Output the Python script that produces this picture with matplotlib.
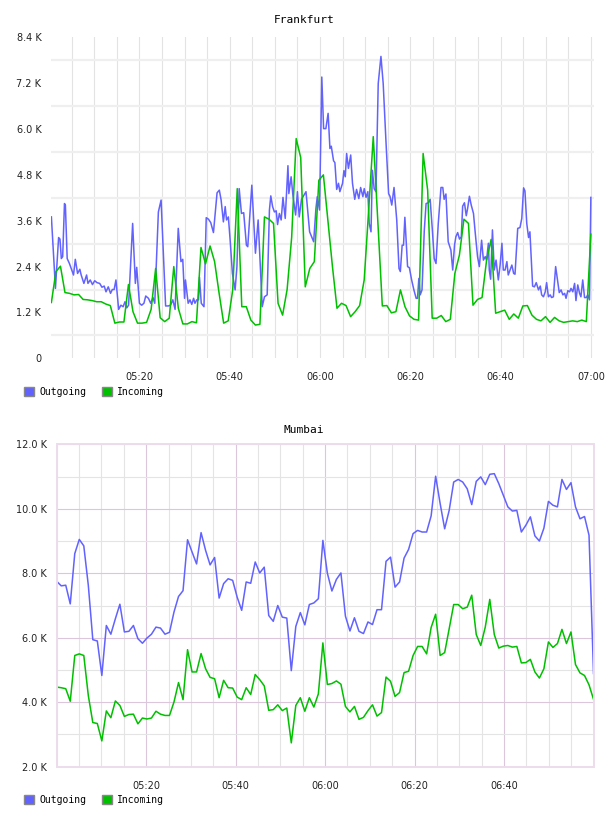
import matplotlib
matplotlib.use("Agg")
import matplotlib.pyplot as plt
import matplotlib.dates as mdates
from matplotlib.patches import Patch
from matplotlib.ticker import MultipleLocator, FixedLocator
import pandas as pd

START = pd.Timestamp("2000-01-01 05:00")

# Frankfurt outgoing: minutes after 05:00 and value (K)
fra_out_min = [0.5, 1.4, 2.1, 2.4, 2.7, 3.0, 3.4, 3.6, 4.0, 4.5, 4.9, 5.4, 5.8, 6.3, 6.8, 7.1, 7.7, 8.3, 8.6, 9.1,
               9.6, 10.1, 10.6, 11.2, 11.7, 12.2, 12.6, 13.1, 13.6, 14.0, 14.4, 14.8, 15.4, 15.9, 16.4, 16.8, 17.2,
               17.6, 18.5, 19.1, 19.4, 20.0, 20.5, 21.0, 21.4, 22.0, 22.5, 23.0, 23.4, 24.2, 24.8, 25.8, 26.4, 26.9,
               27.4, 27.9, 28.6, 29.2, 29.6, 30.0, 30.2, 30.8, 31.2, 31.6, 32.0, 32.3, 32.7, 33.1, 33.3, 33.7, 34.3,
               34.8, 35.3, 35.8, 36.4, 37.2, 37.7, 38.1, 38.6, 39.0, 39.3, 39.7, 40.1, 40.6, 41.2, 41.6, 42.1, 42.6,
               43.1, 43.7, 44.0, 44.9, 45.4, 45.7, 46.3, 47.2, 47.7, 48.3, 48.8, 49.1, 49.5, 49.9, 50.3, 50.6, 51.0,
               51.4, 51.8, 52.3, 52.9, 53.1, 53.6, 54.0, 54.6, 55.0, 55.4, 55.9, 56.9, 57.7, 58.6, 59.1, 59.4, 59.9,
               60.4, 60.8, 61.3, 61.8, 62.2, 62.5, 63.0, 63.3, 63.7, 64.1, 64.4, 65.0, 65.3, 65.6, 65.9, 66.3, 66.8,
               67.2, 67.7, 68.1, 68.6, 69.0, 69.5, 69.8, 70.2, 70.6, 70.9, 71.3, 71.6, 72.0, 72.4, 72.9, 73.5, 74.0,
               74.6, 75.2, 75.5, 75.9, 76.4, 77.0, 77.5, 77.8, 78.2, 78.5, 78.8, 79.4, 79.8, 80.3, 80.8, 81.3, 81.6,
               81.9, 82.2, 82.6, 83.1, 83.5, 84.0, 84.4, 84.9, 85.3, 85.7, 86.2, 86.8, 87.2, 87.5, 87.9, 88.4, 89.0,
               89.4, 89.8, 90.1, 90.5, 90.9, 91.3, 91.6, 92.0, 92.4, 92.7, 93.1, 93.5, 94.0, 94.4, 94.9, 95.3, 95.8,
               96.2, 96.6, 96.9, 97.3, 97.5, 97.8, 98.2, 98.6, 99.0, 99.5, 99.9, 100.3, 100.6, 101.0, 101.4, 101.7,
               102.1, 102.5, 102.9, 103.2, 103.8, 104.3, 104.7, 105.1, 105.4, 105.8, 106.2, 106.5, 107.1, 107.5,
               107.9, 108.4, 108.8, 109.1, 109.5, 109.9, 110.2, 110.6, 111.0, 111.3, 111.7, 112.2, 112.6, 113.0,
               113.4, 113.8, 114.2, 114.5, 114.9, 115.3, 115.6, 116.0, 116.4, 116.7, 117.1, 117.5, 117.8, 118.2,
               118.6, 119.0, 119.3, 119.7, 120.0]
fra_out = [3.70, 1.83, 3.16, 3.12, 2.61, 2.66, 4.05, 4.01, 2.61, 2.48, 2.35, 2.18, 2.59, 2.22, 2.33, 2.18, 1.96,
           2.18, 1.96, 2.05, 1.93, 2.03, 1.98, 1.96, 1.86, 1.89, 1.74, 1.87, 1.70, 1.80, 1.80, 2.05, 1.28, 1.39,
           1.35, 1.48, 1.32, 1.39, 3.53, 1.96, 2.38, 1.44, 1.39, 1.44, 1.63, 1.57, 1.44, 1.59, 1.44, 3.83, 4.14,
           1.37, 1.37, 1.39, 1.53, 1.28, 3.40, 2.53, 2.59, 1.57, 2.05, 1.44, 1.53, 1.41, 1.57, 1.44, 1.53, 1.53,
           2.12, 1.44, 1.35, 3.68, 3.64, 3.55, 3.29, 4.33, 4.40, 4.14, 3.57, 3.97, 3.62, 3.70, 3.09, 2.22, 1.79,
           2.40, 4.44, 3.79, 3.81, 2.96, 2.92, 4.53, 3.40, 2.75, 3.62, 1.35, 1.61, 1.66, 3.88, 4.25, 3.97, 3.83,
           3.86, 3.50, 3.79, 3.62, 4.21, 3.66, 5.04, 4.31, 4.75, 4.27, 3.75, 4.36, 3.70, 4.16, 4.36, 3.31, 3.05,
           3.92, 4.23, 3.88, 7.36, 6.01, 6.01, 6.41, 5.49, 5.55, 5.17, 5.12, 4.42, 4.58, 4.36, 4.58, 4.91, 4.75,
           5.36, 4.97, 5.32, 4.58, 4.16, 4.42, 4.18, 4.47, 4.23, 4.44, 4.21, 4.36, 3.53, 3.31, 4.92, 4.44, 4.36,
           7.19, 7.90, 7.19, 5.71, 4.31, 4.24, 4.01, 4.47, 3.62, 2.35, 2.27, 2.96, 2.96, 3.69, 2.40, 2.37, 2.05,
           1.79, 1.57, 1.57, 2.09, 1.66, 1.79, 3.34, 4.05, 4.07, 4.16, 3.34, 2.61, 2.48, 3.53, 4.47, 4.47, 4.16,
           4.30, 3.05, 2.83, 2.31, 2.96, 3.18, 3.29, 3.12, 3.18, 3.98, 4.07, 3.73, 3.92, 4.24, 4.01, 3.79, 3.27,
           2.66, 2.40, 3.09, 2.57, 2.66, 2.57, 3.01, 2.31, 2.07, 3.36, 2.31, 2.57, 2.05, 2.44, 3.01, 2.31, 2.31,
           2.53, 2.18, 2.31, 2.44, 2.22, 2.20, 3.40, 3.42, 3.66, 4.46, 4.38, 3.53, 3.16, 3.31, 1.89, 1.87, 1.98,
           1.79, 1.89, 1.66, 1.61, 1.74, 1.98, 1.61, 1.66, 1.59, 1.61, 2.40, 2.05, 1.72, 1.79, 1.66, 1.70, 1.57,
           1.77, 1.74, 1.83, 1.74, 1.96, 1.51, 1.92, 1.70, 1.61, 2.05, 1.59, 1.59, 1.66, 1.53, 4.21]

# Frankfurt incoming: one sample a minute, 05:00:30 .. 07:00
fra_in = [1.46, 2.27, 2.41, 1.72, 1.70, 1.66, 1.67, 1.54, 1.53, 1.51, 1.48, 1.48, 1.42, 1.38, 0.92, 0.95, 0.95,
          1.93, 1.22, 0.92, 0.92, 0.94, 1.28, 2.35, 1.06, 0.96, 1.05, 2.40, 1.31, 0.90, 0.90, 0.96, 0.93, 2.90,
          2.47, 2.94, 2.53, 1.70, 0.92, 0.98, 1.79, 4.44, 1.35, 1.35, 1.00, 0.87, 0.89, 3.70, 3.64, 3.53, 1.44,
          1.13, 1.80, 3.16, 5.75, 5.25, 1.87, 2.35, 2.53, 4.66, 4.80, 3.60, 2.40, 1.31, 1.44, 1.38, 1.09, 1.22,
          1.38, 2.05, 3.90, 5.80, 3.60, 1.37, 1.38, 1.19, 1.22, 1.79, 1.35, 1.11, 1.02, 1.00, 5.36, 4.40, 1.05,
          1.05, 1.12, 0.96, 1.02, 2.22, 2.70, 3.64, 3.53, 1.39, 1.54, 1.59, 2.57, 3.11, 1.18, 1.22, 1.26, 1.02,
          1.16, 1.05, 1.37, 1.38, 1.13, 1.02, 0.98, 1.09, 0.94, 1.07, 0.98, 0.94, 0.96, 0.98, 0.96, 1.00, 0.96,
          3.25]

# Mumbai: one sample a minute, 05:00 .. 07:00
mum_out = [7.75, 7.61, 7.63, 7.05, 8.61, 9.05, 8.85, 7.63, 5.94, 5.90, 4.83, 6.38, 6.11, 6.59, 7.04, 6.18, 6.20,
           6.38, 5.97, 5.83, 5.99, 6.11, 6.33, 6.30, 6.11, 6.17, 6.80, 7.28, 7.46, 9.04, 8.66, 8.29, 9.26, 8.71,
           8.26, 8.49, 7.23, 7.68, 7.83, 7.78, 7.26, 6.85, 7.73, 7.69, 8.35, 8.01, 8.19, 6.69, 6.51, 7.00, 6.64,
           6.61, 4.98, 6.35, 6.78, 6.40, 7.03, 7.08, 7.21, 9.02, 8.00, 7.45, 7.81, 8.01, 6.67, 6.21, 6.62, 6.20,
           6.13, 6.49, 6.41, 6.87, 6.87, 8.37, 8.50, 7.57, 7.73, 8.47, 8.74, 9.23, 9.33, 9.28, 9.28, 9.78, 11.01,
           10.16, 9.38, 9.95, 10.83, 10.91, 10.83, 10.62, 10.13, 10.85, 10.99, 10.75, 11.07, 11.09, 10.78, 10.42,
           10.06, 9.93, 9.95, 9.28, 9.49, 9.75, 9.16, 9.00, 9.40, 10.23, 10.11, 10.06, 10.91, 10.60, 10.81, 10.06,
           9.69, 9.76, 9.18, 4.89]
mum_in = [4.47, 4.45, 4.42, 4.03, 5.45, 5.50, 5.45, 4.21, 3.37, 3.34, 2.80, 3.73, 3.52, 4.04, 3.90, 3.56, 3.62,
          3.63, 3.33, 3.51, 3.48, 3.51, 3.72, 3.63, 3.59, 3.59, 4.01, 4.61, 4.08, 5.63, 4.94, 4.94, 5.51, 5.04,
          4.77, 4.73, 4.14, 4.68, 4.45, 4.44, 4.16, 4.08, 4.45, 4.24, 4.86, 4.70, 4.51, 3.75, 3.77, 3.92, 3.74,
          3.82, 2.74, 3.90, 4.14, 3.72, 4.14, 3.85, 4.26, 5.84, 4.55, 4.58, 4.66, 4.56, 3.87, 3.70, 3.87, 3.47,
          3.53, 3.74, 3.92, 3.57, 3.68, 4.78, 4.65, 4.18, 4.30, 4.92, 4.96, 5.45, 5.73, 5.73, 5.50, 6.32, 6.73,
          5.45, 5.54, 6.28, 7.03, 7.03, 6.90, 6.95, 7.32, 6.10, 5.76, 6.33, 7.19, 6.10, 5.68, 5.74, 5.76, 5.71,
          5.73, 5.22, 5.23, 5.33, 4.94, 4.75, 5.04, 5.87, 5.70, 5.82, 6.26, 5.82, 6.18, 5.17, 4.91, 4.83, 4.54,
          4.09]

fra_yticks = [0, 1.2, 2.4, 3.6, 4.8, 6.0, 7.2, 8.4]
fra_ylabels = ["0", "1.2 K", "2.4 K", "3.6 K", "4.8 K", "6.0 K", "7.2 K", "8.4 K"]
fra_xticks = ["05:20", "05:40", "06:00", "06:20", "06:40", "07:00"]
mum_yticks = [2, 4, 6, 8, 10, 12]
mum_ylabels = ["2.0 K", "4.0 K", "6.0 K", "8.0 K", "10.0 K", "12.0 K"]
mum_xticks = ["05:20", "05:40", "06:00", "06:20", "06:40"]

BLUE = "#6262ff"
GREEN = "#00c000"
MONO = "DejaVu Sans Mono"


def at(hhmm):
    return pd.Timestamp("2000-01-01 " + hhmm)


fra_out_t = START + pd.to_timedelta(fra_out_min, unit="min")
fra_in_t = pd.date_range(START + pd.Timedelta(seconds=30), START + pd.Timedelta(hours=2), periods=len(fra_in))
mum_t = pd.date_range(START, START + pd.Timedelta(hours=2), periods=len(mum_out))

fig = plt.figure(figsize=(6.08, 8.16), dpi=100)

# ---- Frankfurt ----
ax1 = fig.add_axes([0.0839, 0.5609, 0.8931, 0.3934])
ax1.plot(fra_out_t, fra_out, color=BLUE, lw=1.1)
ax1.plot(fra_in_t, fra_in, color=GREEN, lw=1.1)
ax1.set_xlim(START + pd.Timedelta(seconds=25), START + pd.Timedelta(minutes=120.7))
ax1.set_ylim(0, 8.4)
ax1.yaxis.set_major_locator(FixedLocator(fra_yticks))
ax1.set_yticklabels(fra_ylabels)
ax1.yaxis.set_minor_locator(MultipleLocator(1.2, offset=0.6))
ax1.xaxis.set_major_locator(FixedLocator(mdates.date2num([at(s) for s in fra_xticks])))
ax1.xaxis.set_major_formatter(mdates.DateFormatter("%H:%M"))
ax1.xaxis.set_minor_locator(mdates.MinuteLocator(byminute=range(0, 60, 5)))
ax1.grid(which="minor", axis="y", color="#efefef", lw=1.6)
ax1.grid(which="both", axis="x", color="#e3e3e3", lw=0.8)
for s in ax1.spines.values():
    s.set_visible(False)
ax1.tick_params(which="both", length=0, labelsize=7, colors="#222222")
ax1.tick_params(axis="y", pad=7)
ax1.tick_params(axis="x", pad=10)
ax1.set_axisbelow(True)
fig.text(0.5, 1 - 20 / 816, "Frankfurt", ha="center", va="center", family=MONO, fontsize=8)

# ---- Mumbai ----
ax2 = fig.add_axes([0.0933, 0.0604, 0.8829, 0.3951])
ax2.plot(mum_t, mum_out, color=BLUE, lw=1.1)
ax2.plot(mum_t, mum_in, color=GREEN, lw=1.1)
ax2.set_xlim(START, START + pd.Timedelta(hours=2))
ax2.set_ylim(2, 12)
ax2.yaxis.set_major_locator(FixedLocator(mum_yticks))
ax2.set_yticklabels(mum_ylabels)
ax2.yaxis.set_minor_locator(MultipleLocator(1))
ax2.xaxis.set_major_locator(FixedLocator(mdates.date2num([at(s) for s in mum_xticks])))
ax2.xaxis.set_major_formatter(mdates.DateFormatter("%H:%M"))
ax2.xaxis.set_minor_locator(mdates.MinuteLocator(byminute=range(0, 60, 5)))
ax2.grid(which="minor", color="#e4e4e4", lw=0.8)
ax2.grid(which="major", color="#dcc6dc", lw=0.8)
for s in ax2.spines.values():
    s.set_color("#ecdcec")
    s.set_linewidth(1.4)
ax2.tick_params(which="both", length=0, labelsize=7, colors="#222222")
ax2.tick_params(axis="y", pad=7)
ax2.tick_params(axis="x", pad=10)
ax2.set_axisbelow(True)
fig.text(0.5, 1 - 430 / 816, "Mumbai", ha="center", va="center", family=MONO, fontsize=8)

# ---- legends ----
handles = [Patch(facecolor=BLUE, edgecolor="#888888", lw=1), Patch(facecolor=GREEN, edgecolor="#888888", lw=1)]
for ypix in (392, 800):
    fig.legend(handles, ["Outgoing", "Incoming"], loc="center left",
               bbox_to_anchor=(24 / 608, 1 - ypix / 816), ncol=2, frameon=False,
               prop={"family": MONO, "size": 7}, handlelength=1.05, handleheight=1.05,
               handletextpad=0.5, columnspacing=1.6, borderpad=0, borderaxespad=0)

fig.savefig("out.png", dpi=100)
